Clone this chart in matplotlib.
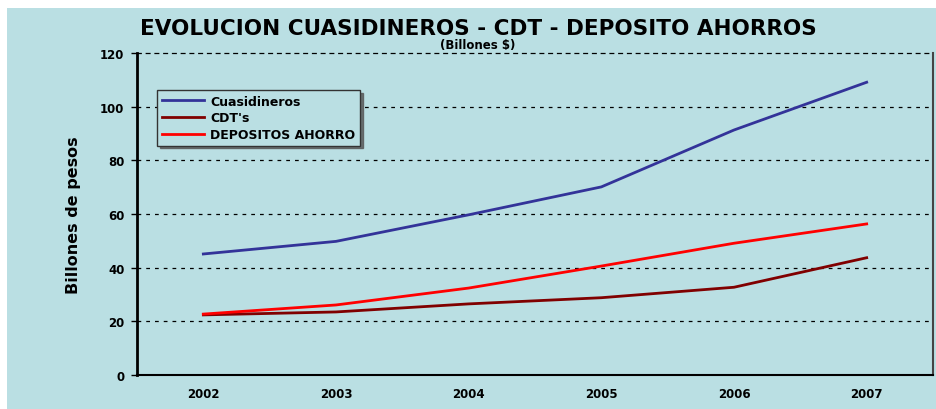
import matplotlib.pyplot as plt
from matplotlib.patches import Rectangle

years = ['2002', '2003', '2004', '2005', '2006', '2007']
cuasidineros = [45.1, 49.8, 59.7, 70.1, 91.3, 109.1]
cdts = [22.4, 23.5, 26.5, 28.8, 32.7, 43.7]
depositos = [22.7, 26.1, 32.4, 40.6, 49.1, 56.3]
yticks = [0, 20, 40, 60, 80, 100, 120]

bg = '#BADFE3'
plt.rcParams['font.family'] = ['DejaVu Sans']
plt.rcParams['font.weight'] = 'bold'

fig = plt.figure(figsize=(9.37, 4.10), dpi=100, facecolor='white')
W, H = 937, 410
fig.patches.append(Rectangle((7 / W, 0), 1 - 7 / W, 1 - 9 / H, transform=fig.transFigure,
                             facecolor=bg, edgecolor='none', zorder=-10))

ax = fig.add_axes([137 / W, (H - 376) / H, (933 - 137) / W, (376 - 54) / H])
ax.set_facecolor(bg)

x = range(len(years))
ax.plot(x, cuasidineros, color='#333399', lw=2.0, label='Cuasidineros', zorder=3)
ax.plot(x, cdts, color='#800000', lw=2.0, label="CDT's", zorder=3)
ax.plot(x, depositos, color='#FF0000', lw=2.0, label='DEPOSITOS AHORRO', zorder=3)

ax.set_xlim(-0.5, len(years) - 0.5)
ax.set_ylim(0, 120)
ax.set_xticks(list(x))
ax.set_xticklabels(years, fontsize=8.5, fontweight='bold')
ax.set_yticks(yticks)
ax.set_yticklabels([str(v) for v in yticks], fontsize=8.5, fontweight='bold')
ax.tick_params(axis='x', length=0, pad=9)
ax.tick_params(axis='y', length=4, width=1, pad=5, direction='out')

for v in yticks[1:-1]:
    ax.axhline(v, color='black', lw=0.9, ls=(0, (3, 4)), zorder=1)

ax.spines['left'].set_linewidth(2)
ax.spines['bottom'].set_linewidth(1.5)
ax.spines['right'].set_color('#444444')
ax.spines['right'].set_linewidth(1.5)
ax.spines['top'].set_linestyle((0, (3, 4)))
ax.spines['top'].set_linewidth(0.9)

ax.set_ylabel('Billones de pesos', fontsize=11.5, fontweight='bold', labelpad=14)

leg = ax.legend(loc='upper left', bbox_to_anchor=(14 / 796, 1 - 31 / 322), fontsize=9,
                frameon=True, fancybox=False, shadow={'ox': 2, 'oy': -2, 'color': '#555555', 'alpha': 0.8},
                borderpad=0.35, handlelength=3.4, handletextpad=0.5, labelspacing=0.3)
leg.get_frame().set_facecolor(bg)
leg.get_frame().set_edgecolor('#333333')
leg.get_frame().set_alpha(1)

fig.text(478 / W, 1 - 29 / H, 'EVOLUCION CUASIDINEROS - CDT - DEPOSITO AHORROS',
         ha='center', va='center', fontsize=15.5, fontweight='bold')
fig.text(478 / W, 1 - 46 / H, '(Billones $)', ha='center', va='center', fontsize=8.5, fontweight='bold')

fig.savefig('out.png', dpi=100, facecolor='white')
